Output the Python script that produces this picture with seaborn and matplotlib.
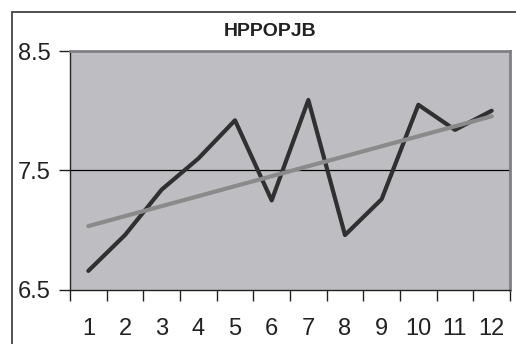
import numpy as np
import pandas as pd
import seaborn as sns
import matplotlib.pyplot as plt
from matplotlib.patches import Rectangle
from matplotlib.ticker import FixedLocator, NullFormatter

# Monthly values of the HPPOPJB series
periods = [1, 2, 3, 4, 5, 6, 7, 8, 9, 10, 11, 12]
values = [6.66, 6.96, 7.34, 7.60, 7.92, 7.25, 8.09, 6.96, 7.26, 8.05, 7.84, 8.00]
y_ticks = [6.5, 7.5, 8.5]
title = "HPPOPJB"

df = pd.DataFrame({"period": periods, "value": values})

sns.set_theme(style="white")
plt.rcParams["font.family"] = ["Liberation Sans", "DejaVu Sans"]

fig = plt.figure(figsize=(5.16, 3.44), dpi=100)
ax = fig.add_axes([70 / 516, 1 - 290 / 344, 440 / 516, 239 / 344])
ax.set_facecolor("#bebec2")

# Horizontal gridline at the middle tick
ax.axhline(7.5, color="black", lw=0.9, zorder=1)

# Series line
sns.lineplot(data=df, x="period", y="value", ax=ax, color="#303030",
             lw=3.0, zorder=3)
# Linear trend line
sns.regplot(data=df, x="period", y="value", ax=ax, ci=None, scatter=False,
            line_kws={"color": "#8a8a8a", "lw": 3.0, "zorder": 4})

ax.set_xlim(0.5, 12.5)
ax.set_ylim(6.5, 8.5)
ax.set_yticks(y_ticks)
ax.set_yticklabels([f"{t:.1f}" for t in y_ticks])
ax.set_xticks(periods)
ax.set_xticklabels([str(p) for p in periods])
ax.xaxis.set_minor_locator(FixedLocator(np.arange(0.5, 13, 1)))
ax.xaxis.set_minor_formatter(NullFormatter())
ax.tick_params(axis="x", which="major", length=0, pad=20,
               labelsize=17, labelcolor="#222222")
ax.tick_params(axis="x", which="minor", bottom=True, length=8, width=1,
               color="#222222", direction="out")
ax.tick_params(axis="y", left=True, length=8, width=1, color="#222222",
               pad=6, labelsize=17, labelcolor="#222222")

ax.set_xlabel("")
ax.set_ylabel("")

for side in ["top", "right"]:
    ax.spines[side].set_color("#808084")
    ax.spines[side].set_linewidth(2)
for side in ["left", "bottom"]:
    ax.spines[side].set_color("#222222")
    ax.spines[side].set_linewidth(1)

fig.text(270 / 516, 1 - 32 / 344, title, ha="center", va="center",
         fontsize=14, fontweight="bold", color="#222222")

# Chart frame, partly cut off at right and bottom
fig.patches.append(Rectangle((12 / 516, -0.2), 1.2, 1 - 12 / 344 + 0.2,
                             transform=fig.transFigure, fill=False,
                             edgecolor="#333333", lw=1.2))

fig.savefig("out.png", dpi=100)
